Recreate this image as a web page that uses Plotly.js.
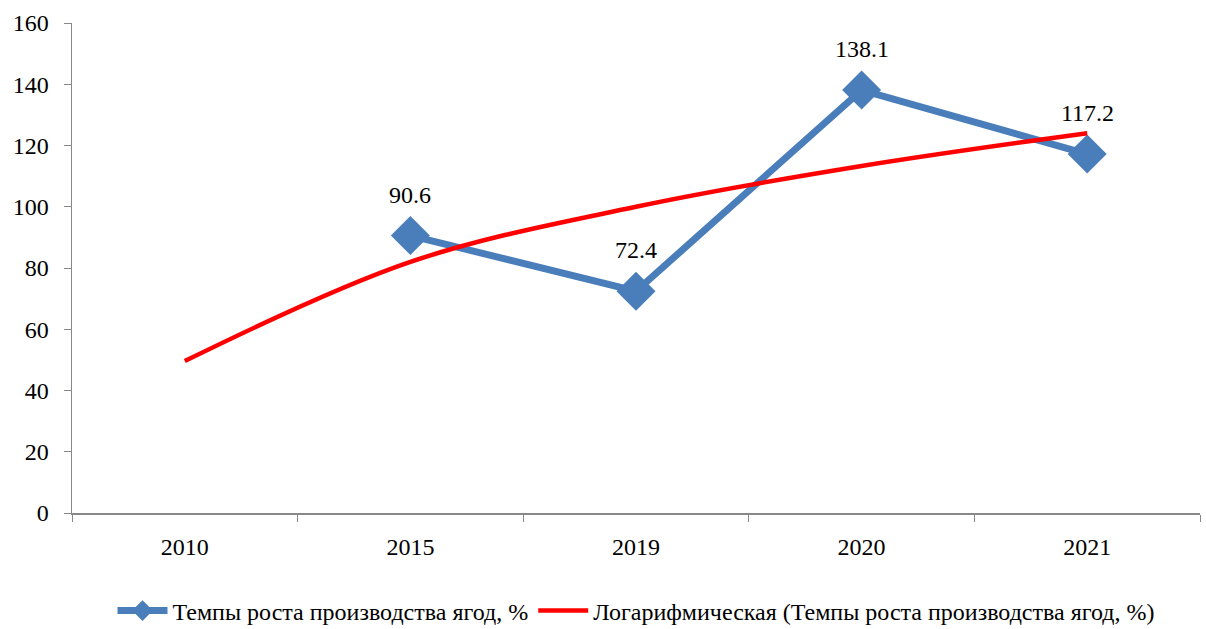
<!DOCTYPE html>
<html><head><meta charset="utf-8">
<script src="https://cdn.plot.ly/plotly-3.0.1.min.js"></script>
<style>body{margin:0;background:#fff}#c{width:1206px;height:629px}</style>
</head><body><div id="c"></div>
<script>
const years = ['2010', '2015', '2019', '2020', '2021'];
const growthRate = [null, 90.6, 72.4, 138.1, 117.2];
const trendValues = [49.6, 82, 100, 113.3, 124];
const seriesName = 'Темпы роста производства ягод, %';
const trendName = 'Логарифмическая (Темпы роста производства ягод, %)';
const yTicks = [0, 20, 40, 60, 80, 100, 120, 140, 160];

const FONT = 'Liberation Serif, Times New Roman, serif';

const traces = [
  {x: years, y: growthRate, name: seriesName, type: 'scatter', mode: 'lines+markers',
   line: {color: '#4A7EBB', width: 7}, marker: {symbol: 'diamond', size: 30, color: '#4A7EBB'},
   connectgaps: false, cliponaxis: false},
  {x: years, y: trendValues, name: trendName, type: 'scatter', mode: 'lines',
   line: {color: '#FF0000', width: 4.5, shape: 'spline', smoothing: 1}}
];

const annotations = [];
years.forEach((yr, i) => {
  if (growthRate[i] == null) return;
  annotations.push({x: i, y: growthRate[i], xref: 'x', yref: 'y', text: growthRate[i].toFixed(1),
    showarrow: false, yshift: 41, font: {family: FONT, size: 24, color: '#000'}});
});

const layout = {
  width: 1206, height: 629,
  margin: {l: 72, r: 6, t: 23, b: 116, autoexpand: false},
  paper_bgcolor: '#fff', plot_bgcolor: '#fff',
  font: {family: FONT, size: 24, color: '#000'},
  showlegend: true,
  legend: {orientation: 'h', x: 0.5, xanchor: 'center', y: -0.2, yanchor: 'middle',
    font: {family: FONT, size: 24, color: '#000'}, traceorder: 'normal', itemwidth: 50},
  xaxis: {type: 'category', categoryorder: 'array', categoryarray: years, range: [-0.5, 4.5],
    showgrid: false, zeroline: false, showline: true, tickangle: 0, automargin: false,
    linecolor: '#888', linewidth: 1.5, ticks: 'outside', ticklen: 7, tickcolor: '#888',
    ticklabelstandoff: 12,
    tickson: 'boundaries', tickfont: {family: FONT, size: 24}, fixedrange: true},
  yaxis: {range: [0, 160], tickvals: yTicks, showgrid: false, zeroline: false, showline: true,
    automargin: false,
    linecolor: '#888', linewidth: 1.5, ticks: 'outside', ticklen: 7, tickcolor: '#888',
    ticklabelstandoff: 10,
    tickfont: {family: FONT, size: 24}, fixedrange: true},
  annotations: annotations
};

Plotly.newPlot('c', traces, layout, {staticPlot: true});
</script></body></html>
